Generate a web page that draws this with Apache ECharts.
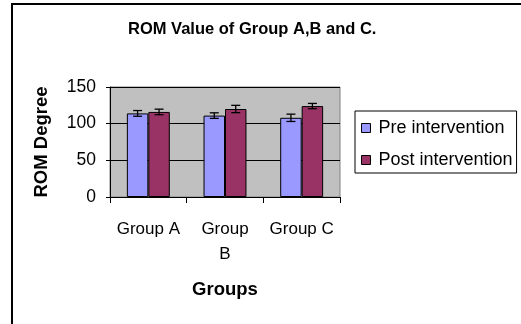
<!DOCTYPE html>
<html>
<head>
<meta charset="utf-8">
<script src="https://cdn.jsdelivr.net/npm/echarts@6/dist/echarts.min.js"></script>
<style>
html,body{margin:0;padding:0;background:#fff;}
#chart{width:521px;height:324px;}
</style>
</head>
<body>
<div id="chart"></div>
<script>
const categories = ['Group A', 'Group B', 'Group C'];
const seriesNames = ['Pre intervention', 'Post intervention'];
const preValues = [114, 111, 108];
const postValues = [116, 120, 124];
const preErrors = [3.9, 3.8, 5];
const postErrors = [3.8, 5, 3.6];
const yTicks = [0, 50, 100, 150];

const FONT = "'Liberation Sans', Arial, sans-serif";
const CAT_GAP = 0.44;

function errorSeries(name, values, errors, side) {
  return {
    name: name,
    type: 'custom',
    silent: true,
    z: 5,
    data: values.map((v, i) => [i, v, errors[i]]),
    renderItem: function (params, api) {
      const i = api.value(0), v = api.value(1), e = api.value(2);
      const band = api.size([1, 0])[0];
      const barW = band * (1 - CAT_GAP) / 2;
      const c = api.coord([i, v]);
      const x = c[0] + side * barW / 2;
      const hi = api.coord([i, v + e])[1];
      const lo = api.coord([i, v - e])[1];
      const cap = 4.5;
      const st = { stroke: '#000', lineWidth: 1.3 };
      return {
        type: 'group',
        children: [
          { type: 'line', shape: { x1: x, y1: hi, x2: x, y2: lo }, style: st },
          { type: 'line', shape: { x1: x - cap, y1: hi, x2: x + cap, y2: hi }, style: st },
          { type: 'line', shape: { x1: x - cap, y1: lo, x2: x + cap, y2: lo }, style: st }
        ]
      };
    }
  };
}

const chart = echarts.init(document.getElementById('chart'), null, { renderer: 'canvas' });
chart.setOption({
  animation: false,
  backgroundColor: '#fff',
  textStyle: { fontFamily: FONT },
  graphic: [
    { type: 'rect', shape: { x: 12, y: 4, width: 700, height: 500 }, style: { fill: 'none', stroke: '#000', lineWidth: 2 }, z: 100 },
    { type: 'text', left: 128, top: 21, style: { text: 'ROM Value of Group A,B and C.', font: 'bold 16.5px ' + FONT, fill: '#000' } }
  ],
  legend: {
    orient: 'vertical',
    left: 355,
    top: 111,
    data: seriesNames,
    icon: 'rect',
    itemWidth: 9,
    itemHeight: 9,
    itemGap: 14,
    padding: [8, 4, 4, 6],
    borderColor: '#000',
    borderWidth: 1,
    backgroundColor: '#fff',
    itemStyle: { borderColor: '#000', borderWidth: 1 },
    textStyle: { fontSize: 18, color: '#000', fontFamily: FONT, padding: [0, 0, 0, 3] }
  },
  grid: {
    left: 110, right: 181, top: 87, bottom: 127,
    show: true, backgroundColor: '#c0c0c0', borderColor: '#808080', borderWidth: 1
  },
  xAxis: {
    type: 'category',
    data: categories,
    name: 'Groups',
    nameLocation: 'middle',
    nameGap: 83,
    nameTextStyle: { fontWeight: 'bold', fontSize: 18.5, color: '#000' },
    axisLine: { lineStyle: { color: '#000', width: 1 } },
    axisTick: { show: true, length: 6, lineStyle: { color: '#000' } },
    axisLabel: {
      interval: 0, hideOverlap: false,
      fontSize: 17, color: '#000', margin: 20, lineHeight: 25,
      formatter: v => v === 'Group B' ? 'Group\nB' : v
    }
  },
  yAxis: {
    type: 'value',
    min: 0, max: 150, interval: 50,
    name: 'ROM Degree',
    nameLocation: 'middle',
    nameGap: 59,
    nameRotate: 90,
    nameTextStyle: { fontWeight: 'bold', fontSize: 18.5, color: '#000' },
    axisLine: { show: true, lineStyle: { color: '#000' } },
    axisTick: { show: true, length: 4, lineStyle: { color: '#000' } },
    axisLabel: { fontSize: 17.5, color: '#000', margin: 14, formatter: v => yTicks.includes(v) ? String(v) : '' },
    splitLine: { lineStyle: { color: '#000', width: 1 } }
  },
  series: [
    {
      name: seriesNames[0], type: 'bar', data: preValues,
      barGap: '0%', barCategoryGap: (CAT_GAP * 100) + '%',
      itemStyle: { color: '#9999ff', borderColor: '#000', borderWidth: 1 }
    },
    {
      name: seriesNames[1], type: 'bar', data: postValues,
      barGap: '0%', barCategoryGap: (CAT_GAP * 100) + '%',
      itemStyle: { color: '#993366', borderColor: '#000', borderWidth: 1 }
    },
    errorSeries(seriesNames[0], preValues, preErrors, -1),
    errorSeries(seriesNames[1], postValues, postErrors, 1)
  ]
});
</script>
</body>
</html>
